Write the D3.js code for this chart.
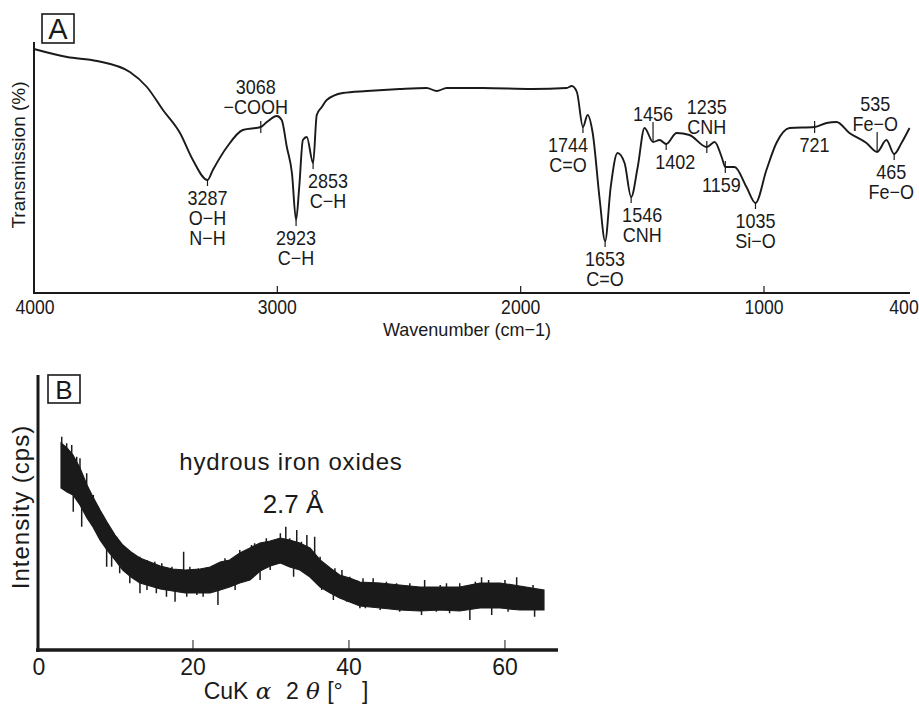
<!DOCTYPE html>
<html>
<head>
<meta charset="utf-8">
<script src="https://cdn.jsdelivr.net/npm/d3@7"></script>
<style>
body{margin:0;background:#fff;}
svg{display:block;font-family:"Liberation Sans",Arial,Helvetica,sans-serif;}
text{fill:#1a1a1a;}
</style>
</head>
<body>
<svg></svg>
<script>
// A : IR spectrum (wavenumber, transmission)
let ir_wn = [4000,3864,3741,3606,3536,3470,3400,3347,3287,3265,3207,3142,3068,3043,3002,2982,2961,2940,2923,2910,
  2895,2879,2853,2838,2817,2797,2731,2632,2497,2386,2345,2304,2156,1951,1811,1790,1769,1744,1725,1704,
  1675,1653,1630,1602,1573,1546,1519,1491,1456,1429,1402,1359,1306,1235,1203,1174,1159,1121,1072,1035,
  990,949,895,792,743,702,649,579,535,497,465,435,402];
let ir_tr = [97.6,94.4,92.8,88.4,82.4,73.2,64,53.2,45.2,49.2,58.4,65.2,66.4,68.4,70.8,69.2,58.4,48,29.2,42.4,
  61.2,62.4,52,71.2,74.4,77.2,80,80.8,81.6,82,80.8,82,82,81.6,82,82.8,80.4,66.4,71.2,64,
  37.2,20.8,42.4,56,52,38.4,50.4,66,60.4,61.2,59.6,64,63.2,58.4,60.4,54.4,50.4,50.4,42.4,36,
  49.2,60,66,66.4,68,68.4,64,60,56.4,61.2,55.6,60,66];
let ir_ticks = [4000,3000,2000,1000,400];
let ir_minor = [3000,2000,1000];

// peak marks (position on the curve, label lines, mark type)
let peak_wn = [3287,3068,2923,2853,1744,1653,1546,1456,1402,1235,1159,1035,792,535,465];
let peak_text = [["3287","O−H","N−H"],["3068","−COOH"],["2923","C−H"],["2853","C−H"],["1744","C=O"],
  ["1653","C=O"],["1546","CNH"],["1456"],["1402"],["1235","CNH"],["1159"],["1035","Si−O"],["721"],
  ["535","Fe−O"],["465","Fe−O"]];
let peak_mark = ["down","cross_a","down","down","down","down","down","up","down","cross_a","cross_b","down","cross_b","up","down"];

// B : XRD band (2theta, upper / lower edge of the noise band)
let xrd_2t = [3.08,3.85,4.62,5.51,6.41,7.18,8.08,8.97,10.0,11.0,12.05,13.2,14.5,15.8,17.4,19.0,20.9,22.2,23.5,24.7,
  26.0,27.3,28.6,29.9,31.2,32.4,33.7,35.0,36.3,37.6,38.8,40.1,41.4,44.0,46.5,49.1,51.7,54.2,56.8,59.4,61.9,65.0];
let xrd_hi = [82.8,80.8,78,72.8,66,61.2,56,51.2,46,42,39.2,36.8,35.2,33.6,32.4,32,32.4,33.2,35.2,36,
  38.8,40.8,42.8,43.6,44.8,44,42.8,40.8,36,32.8,30,28.8,27.2,26.8,26,25.2,25.2,25.2,26.8,26.8,25.6,24];
let xrd_lo = [64.8,63.2,62,58,52.8,49.2,44,40,36,32,29.2,26.8,25.6,24.4,23.6,22.8,22.8,22.8,24,25.2,
  26.8,28,31.6,33.6,34.8,33.2,32,29.2,25.2,22.8,20.8,19.2,17.6,16.8,16,15.6,16,15.6,16.8,16.8,16,16];
// single noise spikes sticking out of the band
let spike_up_2t = [3.17,3.8,4.45,5.09,5.51,6.37,7.22,7.86,8.29,9.57,10.2,11.1,11.7,12.3,13.2,14.1,15.1,16.0,17.3,18.8,
  19.6,20.7,21.8,24.1,24.7,26.0,26.9,27.5,27.9,29.4,30.1,31.2,31.9,32.4,33.3,33.9,34.6,35.6,36.3,37.1,
  38.2,39.1,40.1,41.0,41.8,43.1,44.8,46.1,47.8,49.7,51.7,52.5,54.2,56.2,57.0,57.9,60.0,61.5,62.3,63.6,64.5];
let spike_up_i = [85.3,82.7,82,77.3,76.7,70.7,62,57.3,53.3,46.7,45.3,41.3,40,38.7,37.3,36,35.3,34.7,33.3,39.3,
  33.3,32.7,32.7,36.7,36,40,39.3,42,42.7,44.7,40.7,46.7,49.3,44.7,48,43.3,46,45.3,37.3,33.3,
  32.7,32,29.3,28,28.7,28.7,27.3,26.7,26.7,28,26,26.7,26.7,27.3,29.1,28,28,29.1,25.3,26,24];
let spike_dn_2t = [4.65,5.73,6.8,8.08,8.93,9.57,10.6,11.9,13.2,14.1,15.3,16.6,17.7,19.2,20.5,21.3,23.2,25.4,28.6,29.9,
  32.9,35.0,36.5,38.0,39.7,41.4,42.1,44.0,46.5,49.3,51.2,52.9,55.5,58.3,60.4,63.8];
let spike_dn_i = [55.3,49.3,52,48,33.3,33.3,30.7,26.7,22.7,24,22.7,21.3,19.3,21.3,22,21.3,18,24,28,32,
  29.3,29.3,24,20,19.3,16.7,16.7,16,15.3,14,15.3,14.7,12,14,15.3,13.3];
let xrd_ticks = [0,20,40,60];

const W = 919, H = 707;
let svg = d3.select("svg").attr("width",W).attr("height",H);

function draw_line(p,x1,x2,y1,y2,w){
  return p.append("line").attr("x1",x1).attr("x2",x2).attr("y1",y1).attr("y2",y2)
    .attr("stroke","#1a1a1a").attr("stroke-width",w||1);
}
function draw_text(p,x,y,t,size,anchor){
  return p.append("text").attr("x",x).attr("y",y).attr("font-size",size)
    .attr("text-anchor",anchor||"middle").text(t);
}
// condensed text (the figure uses a narrow gothic face in panel A)
function draw_text_c(p,x,y,t,size,sx){
  return p.append("text").attr("transform","translate("+x+","+y+") scale("+(sx||0.9)+",1)")
    .attr("font-size",size).attr("text-anchor","middle").text(t);
}
function label_box(p,x,y,w,h,t,size){
  p.append("rect").attr("x",x).attr("y",y).attr("width",w).attr("height",h)
    .attr("fill","none").attr("stroke","#1a1a1a").attr("stroke-width",1.6);
  return draw_text(p,x+w/2,y+h-4,t,size);
}
// band edge at a given 2theta (linear between read points)
function band_edge(t,arr){
  let i = d3.bisectLeft(xrd_2t,t);
  i = Math.max(1,Math.min(xrd_2t.length-1,i));
  let f = (t-xrd_2t[i-1])/(xrd_2t[i]-xrd_2t[i-1]);
  return arr[i-1]+(arr[i]-arr[i-1])*f;
}

// ---------- panel A ----------
let ga = svg.append("g");
let xa = d3.scaleLinear().domain([4000,400]).range([34,910]);
let ya = d3.scaleLinear().domain([0,100]).range([293,43]);

draw_line(ga,34,34,42,294,2);
draw_line(ga,33,910,293,293,2);
ir_minor.forEach(v=>draw_line(ga,xa(v),xa(v),293,286,1.2));
ir_ticks.forEach(v=>{
  let dx = v===400 ? -6 : (v===4000 ? 1 : 0);
  draw_text_c(ga,xa(v)+dx,314,v,20,0.88);
});
draw_text_c(ga,467,336,"Wavenumber (cm−1)",19,0.95);
draw_text(ga,0,0,"Transmission (%)",19).attr("transform","translate(25,155) rotate(-90)");
label_box(ga,42,14,32,29,"A",29);

let ir_line = d3.line().x(d=>xa(d[0])).y(d=>ya(d[1])).curve(d3.curveMonotoneX);
ga.append("path").datum(ir_wn.map((w,i)=>[w,ir_tr[i]]))
  .attr("d",ir_line).attr("fill","none").attr("stroke","#1a1a1a").attr("stroke-width",1.9);

// horizontal nudges for the crowded labels
let nudge = {2853:15,1744:-15,3068:-5,1402:9,1159:-4,1546:11,465:-3,535:-2};
peak_wn.forEach((w,i)=>{
  let px = xa(w);
  let py = ya(ir_tr[ir_wn.indexOf(w)]);
  let lines = peak_text[i];
  let m = peak_mark[i];
  let lx = px + (nudge[w]||0);
  if(m==="down"){
    draw_line(ga,px,px,py,py+6,1.2);
  }else if(m==="up"){
    draw_line(ga,px,px,py,py-20,1.2);
  }else{
    draw_line(ga,px,px,py-6,py+6,1.2);
  }
  if(m==="down"||m==="cross_b"){
    lines.forEach((t,k)=>draw_text_c(ga,lx,py+25+k*20,t,20,0.9));
  }else{
    let base = m==="up" ? py-21 : py-13;
    lines.forEach((t,k)=>draw_text_c(ga,lx,base-(lines.length-1-k)*20,t,20,0.9));
  }
});

// ---------- panel B ----------
let gb = svg.append("g");
let xb = d3.scaleLinear().domain([0,66.8]).range([37,558]);
let yb = d3.scaleLinear().domain([0,110]).range([650,375]);

let band = d3.area().x(d=>xb(d[0])).y0(d=>yb(d[2])).y1(d=>yb(d[1]));
gb.append("path").datum(xrd_2t.map((t,i)=>[t,xrd_hi[i],xrd_lo[i]]))
  .attr("d",band).attr("fill","#1a1a1a").attr("stroke","#1a1a1a").attr("stroke-width",1.2);
spike_up_2t.forEach((t,i)=>draw_line(gb,xb(t),xb(t),yb(band_edge(t,xrd_hi))+3,yb(spike_up_i[i]),1.5));
spike_dn_2t.forEach((t,i)=>draw_line(gb,xb(t),xb(t),yb(band_edge(t,xrd_lo))-3,yb(spike_dn_i[i]),1.5));

draw_line(gb,38,38,375,652,3);
draw_line(gb,36,558,650,650,3.5);
xrd_ticks.filter(v=>v>0).forEach(v=>draw_line(gb,xb(v),xb(v),650,640,1));
xrd_ticks.forEach(v=>draw_text(gb,xb(v)+(v===0?2:0),675,v,23));
label_box(gb,48,375,32,28,"B",26);

draw_text(gb,0,0,"Intensity (cps)",24).attr("letter-spacing",1)
  .attr("transform","translate(29,507) rotate(-90)");
draw_text(gb,291,470,"hydrous iron oxides",24).attr("letter-spacing",0.8);
draw_text(gb,293,513,"2.7 Å",26);

let xl = draw_text(gb,286,699,"",23).style("white-space","pre");
xl.append("tspan").text("CuK");
xl.append("tspan").attr("font-style","italic").attr("font-family","DejaVu Serif").text(" α  ");
xl.append("tspan").text("2");
xl.append("tspan").attr("font-style","italic").attr("font-family","DejaVu Serif").text(" θ ");
xl.append("tspan").text("[°   ]");
</script>
</body>
</html>
